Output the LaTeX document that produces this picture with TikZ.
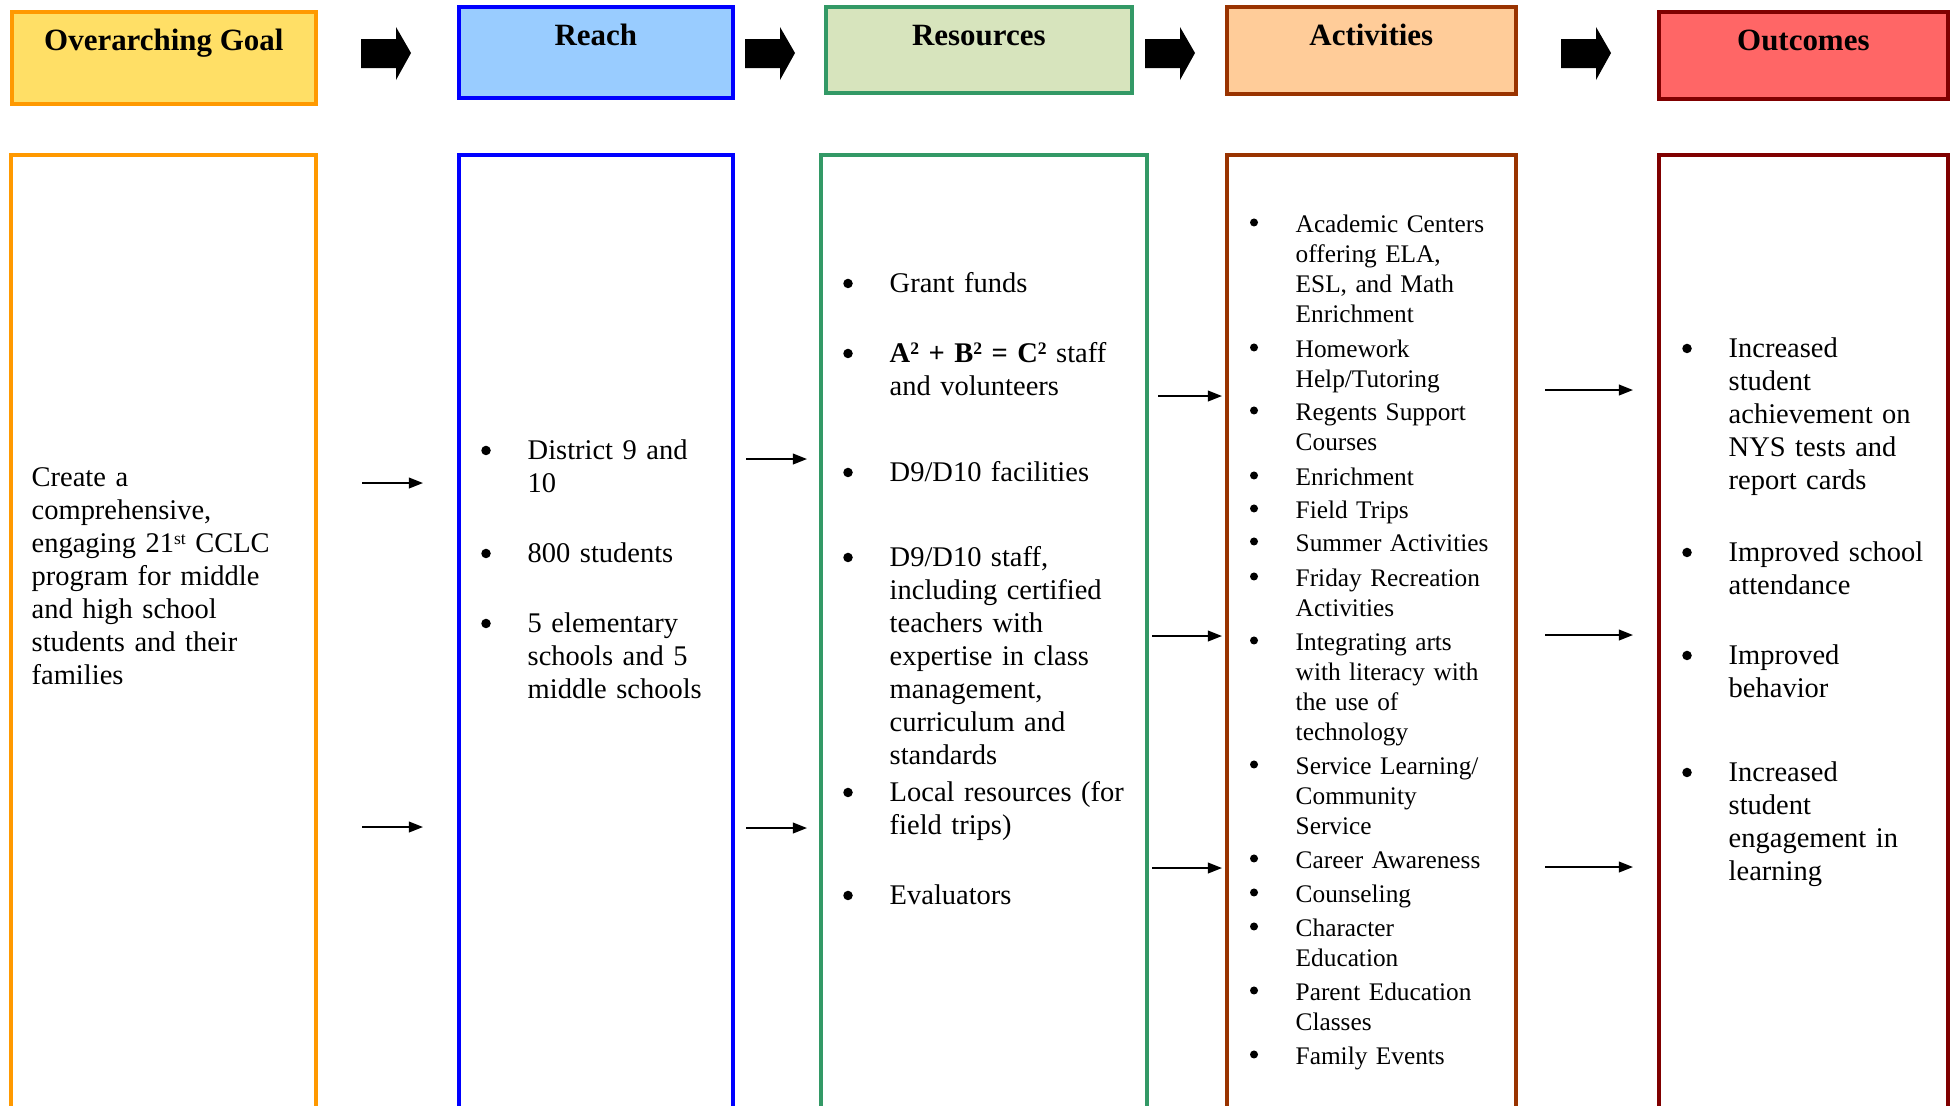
\documentclass[tikz,border=0pt]{standalone}
\usepackage{fontspec}
\setmainfont{Liberation Serif}
\usepackage{tikz}
\usetikzlibrary{arrows.meta,calc}
\definecolor{lmgoalfill}{HTML}{FFDF66}
\definecolor{lmgoal}{HTML}{FF9900}
\definecolor{lmreachfill}{HTML}{99CCFF}
\definecolor{lmreach}{HTML}{0000FF}
\definecolor{lmresfill}{HTML}{D7E4BD}
\definecolor{lmres}{HTML}{339966}
\definecolor{lmactfill}{HTML}{FFCC99}
\definecolor{lmact}{HTML}{993300}
\definecolor{lmoutfill}{HTML}{FF6666}
\definecolor{lmout}{HTML}{800000}
\newcommand{\lmsup}[1]{\raisebox{0.6ex}{\fontsize{5}{5}\selectfont #1}}
\tikzset{
  hdr/.style={draw,line width=1pt,anchor=north west,inner sep=0pt},
  hdrtext/.style={font=\fontsize{8.8}{10}\selectfont\bfseries,inner sep=0pt,anchor=base},
  col/.style={draw,line width=1pt,anchor=north west,inner sep=0pt,minimum height=9.7cm},
  txt/.style={font=\fontsize{8.1}{9.4}\selectfont,inner sep=0pt,anchor=base west,text width=3cm,align=left,yshift=-0.7pt},
  acttxt/.style={txt,font=\fontsize{7.2}{8.5}\selectfont},
  bul/.style={circle,fill,inner sep=0pt,minimum size=0.095cm,yshift=-0.7pt},
  actbul/.style={bul,minimum size=0.08cm},
  thinarrow/.style={-{Triangle[length=4pt,width=3pt]},line width=0.6pt}
}

\begin{document}
\begin{tikzpicture}[x=0.01cm,y=-0.01cm]
\useasboundingbox (0,0) rectangle (1952,1105);
\clip (0,0) rectangle (1952,1105);

% header row
\node[hdr,fill=lmgoalfill,draw=lmgoal,minimum width=3.04cm,minimum height=0.92cm] (hgoal) at (10,10) {};
\node[hdr,fill=lmreachfill,draw=lmreach,minimum width=2.74cm,minimum height=0.91cm] (hreach) at (457,5) {};
\node[hdr,fill=lmresfill,draw=lmres,minimum width=3.06cm,minimum height=0.86cm] (hres) at (824,5) {};
\node[hdr,fill=lmactfill,draw=lmact,minimum width=2.89cm,minimum height=0.87cm] (hact) at (1225,5) {};
\node[hdr,fill=lmoutfill,draw=lmout,minimum width=2.89cm,minimum height=0.87cm] (hout) at (1657,10) {};
\foreach \h/\t in {hgoal/Overarching Goal,hreach/Reach,hres/Resources,hact/Activities,hout/Outcomes}
  \node[hdrtext] (\h-t) at ($(\h.north)+(0,40)$) {\t};

% block arrows between headers
\foreach \ax in {361,745,1145,1561}
  \fill (\ax,39) -- ++(35,0) -- ++(0,-12) -- ++(15,26) -- ++(-15,27) -- ++(0,-12) -- ++(-35,0) -- cycle;

% columns
\node[col,draw=lmgoal,minimum width=3.05cm] (cgoal) at (9,153) {};
\node[col,draw=lmreach,minimum width=2.74cm] (creach) at (457,153) {};
\node[col,draw=lmres,minimum width=3.26cm] (cres) at (819,153) {};
\node[col,draw=lmact,minimum width=2.89cm] (cact) at (1225,153) {};
\node[col,draw=lmout,minimum width=2.89cm] (cout) at (1657,153) {};

% goal
\node[txt] (goaltxt) at (31,484) {Create a\\comprehensive,\\engaging 21\lmsup{st} CCLC\\program for middle\\and high school\\students and their\\families};

% reach
\foreach \yy/\txt [count=\i] in {457/{District 9 and\\10},560/{800 students},630/{5 elementary\\schools and 5\\middle schools}}{
  \node[bul] (rb\i) at (486,\yy-9) {};
  \node[txt] (rt\i) at (527,\yy) {\txt};
}

% resources
\foreach \yy/\txt [count=\i] in {290/{Grant funds},
  360/{\textbf{A\lmsup{2} + B\lmsup{2} = C\lmsup{2}} staff\\and volunteers},
  479/{D9/D10 facilities},
  564/{D9/D10 staff,\\including certified\\teachers with\\expertise in class\\management,\\curriculum and\\standards},
  799/{Local resources (for\\field trips)},
  902/{Evaluators}}{
  \node[bul] (sb\i) at (848,\yy-9) {};
  \node[txt] (st\i) at (889,\yy) {\txt};
}

% activities
\foreach \yy/\txt [count=\i] in {230/{Academic Centers\\offering ELA,\\ESL, and Math\\Enrichment},
  355/{Homework\\Help/Tutoring},
  418/{Regents Support\\Courses},
  483/{Enrichment},
  516/{Field Trips},
  549/{Summer Activities},
  584/{Friday Recreation\\Activities},
  648/{Integrating arts\\with literacy with\\the use of\\technology},
  772/{Service Learning/\\Community\\Service},
  866/{Career Awareness},
  900/{Counseling},
  934/{Character\\Education},
  998/{Parent Education\\Classes},
  1062/{Family Events}}{
  \node[actbul] (ab\i) at (1254,\yy-10) {};
  \node[acttxt] (at\i) at (1295,\yy) {\txt};
}

% outcomes
\foreach \yy/\txt [count=\i] in {355/{Increased\\student\\achievement on\\NYS tests and\\report cards},
  559/{Improved school\\attendance},
  662/{Improved\\behavior},
  779/{Increased\\student\\engagement in\\learning}}{
  \node[bul] (ob\i) at (1687,\yy-9) {};
  \node[txt] (ot\i) at (1728,\yy) {\txt};
}

% thin arrows between columns
\foreach \y in {483,827} \draw[thinarrow] (362,\y) -- (423,\y);
\foreach \y in {459,828} \draw[thinarrow] (746,\y) -- (807,\y);
\draw[thinarrow] (1158,396) -- (1222,396);
\foreach \y in {636,868} \draw[thinarrow] (1152,\y) -- (1222,\y);
\foreach \y in {390,635,867} \draw[thinarrow] (1545,\y) -- (1633,\y);
\end{tikzpicture}
\end{document}
